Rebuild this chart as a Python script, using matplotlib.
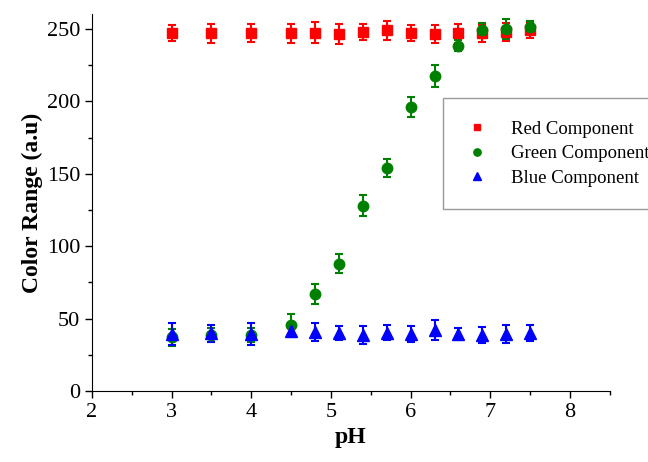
import numpy as np
import matplotlib.pyplot as plt
from matplotlib.ticker import MultipleLocator

plt.rcParams['font.family'] = ['Liberation Serif', 'DejaVu Serif']
plt.rcParams['mathtext.fontset'] = 'stix'

ph = [3.0, 3.5, 4.0, 4.5, 4.8, 5.1, 5.4, 5.7, 6.0, 6.3, 6.6, 6.9, 7.2, 7.5]

red = [247, 247, 247.5, 247, 247.5, 246.5, 248, 249, 247, 246.5, 247, 247, 248, 249]
red_err = [5.4, 6.4, 6.2, 6.4, 7.2, 6.9, 5.3, 6.4, 5.4, 6.3, 6.4, 6.0, 6.4, 5.3]

green = [37, 38.7, 38.5, 45.5, 67, 88, 128, 154, 196, 217.5, 238.5, 249, 250, 251]
green_err = [6.0, 5.0, 5.0, 7.6, 7.0, 6.5, 7.0, 6.5, 7.0, 7.4, 4.0, 5.0, 7.0, 4.4]

blue = [39.4, 39.8, 39.4, 41.5, 41, 40.3, 38.4, 40.3, 39.6, 42, 39.4, 38.4, 39.4, 40]
blue_err = [7.8, 6.0, 7.4, 4.0, 6.2, 4.8, 6.2, 5.0, 5.5, 6.9, 4.4, 5.5, 6.4, 5.3]

fig = plt.figure(figsize=(6.48, 4.62), dpi=100)
ax = fig.add_axes([0.142, 0.1537, 0.799, 0.815])

ax.errorbar(ph, red, yerr=red_err, fmt='s', color='#ff0000', ms=7, capsize=3,
            elinewidth=1.5, capthick=1.5, label='Red Component')
ax.errorbar(ph, green, yerr=green_err, fmt='o', color='#008000', ms=7.5, capsize=3,
            elinewidth=1.5, capthick=1.5, label='Green Component')
ax.errorbar(ph, blue, yerr=blue_err, fmt='^', color='#0000ff', ms=8, capsize=3,
            elinewidth=1.5, capthick=1.5, label='Blue Component')

ax.set_xlim(2, 8.5)
ax.set_ylim(0, 260)
ax.xaxis.set_major_locator(MultipleLocator(1))
ax.xaxis.set_minor_locator(MultipleLocator(0.5))
ax.yaxis.set_major_locator(MultipleLocator(50))
ax.yaxis.set_minor_locator(MultipleLocator(25))
ax.spines['top'].set_visible(False)
ax.spines['right'].set_visible(False)
ax.tick_params(which='major', direction='out', length=5, width=1, labelsize=16)
ax.tick_params(which='minor', direction='out', length=3, width=1)

ax.set_xlabel('pH', fontsize=17, fontweight='bold', labelpad=4)
ax.set_ylabel('Color Range (a.u)', fontsize=17, fontweight='bold', labelpad=3)

handles, labels = ax.get_legend_handles_labels()
handles = [h[0] for h in handles]
leg = fig.legend(handles, labels, loc='upper left', bbox_to_anchor=(0.684, 0.788),
                 fontsize=13.5, frameon=True, fancybox=False, edgecolor='#808080',
                 markerscale=0.7, handlelength=1.2, handletextpad=1.2,
                 borderpad=1.2, labelspacing=0.4, borderaxespad=0)
leg.get_frame().set_linewidth(1)

fig.savefig('out.png', dpi=100)
